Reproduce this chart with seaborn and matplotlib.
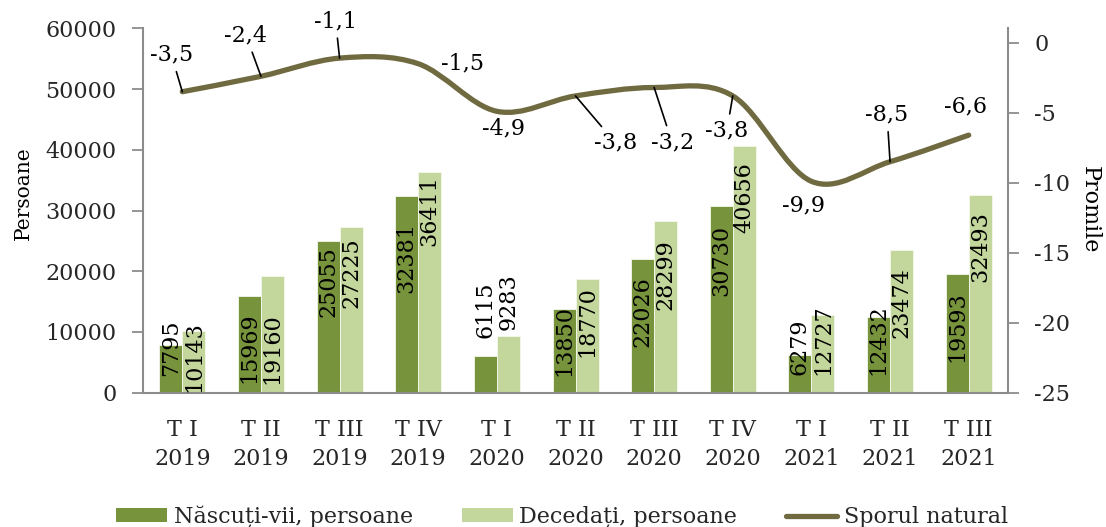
import numpy as np
import pandas as pd
import matplotlib
matplotlib.use("Agg")
import matplotlib.pyplot as plt
from matplotlib.path import Path
from matplotlib.patches import PathPatch, Patch
from matplotlib.lines import Line2D
from matplotlib.ticker import FixedLocator
import seaborn as sns

# Quarterly demographic figures
trimestre = ["T I", "T II", "T III", "T IV", "T I", "T II", "T III", "T IV", "T I", "T II", "T III"]
ani = ["2019", "2019", "2019", "2019", "2020", "2020", "2020", "2020", "2021", "2021", "2021"]
nascuti = [7795, 15969, 25055, 32381, 6115, 13850, 22026, 30730, 6279, 12432, 19593]
decedati = [10143, 19160, 27225, 36411, 9283, 18770, 28299, 40656, 12727, 23474, 32493]
sporul = [-3.5, -2.4, -1.1, -1.5, -4.9, -3.8, -3.2, -3.8, -9.9, -8.5, -6.6]

serie_nascuti = "Născuți-vii, persoane"
serie_decedati = "Decedați, persoane"
serie_sporul = "Sporul natural"

# Vertical placement of the value labels inside/above the bars (left-axis units)
nascuti_label_y = [7442, 7442, 18227, 22343, 13617, 8677, 13287, 21849, 7525, 8677, 10818]
decedati_label_y = [5878, 7195, 19709, 29917, 14934, 11641, 19379, 32140, 8677, 14769, 23990]

# Offsets (pixels) of the natural-growth labels and whether a leader line is drawn
sporul_offsets = [(-11, 37), (-15, 41), (-4, 37), (44, 0), (7, -17), (40, -47),
                  (18, -55), (-6, -35), (-8, -24), (-3, 47), (-3, 29)]
sporul_leader = [True, True, True, False, False, True, True, True, False, True, False]

col_dark = "#77933C"
col_light = "#C3D69B"
col_line = "#6F6A40"
col_axis = "#8C8C8C"

sns.set_theme(style="white")
plt.rcParams["font.family"] = ["DejaVu Serif"]
plt.rcParams["axes.unicode_minus"] = False
FS = 16

categorii = [f"{t}\n{a}" for t, a in zip(trimestre, ani)]
df = pd.DataFrame({
    "perioada": categorii * 2,
    "valoare": nascuti + decedati,
    "serie": [serie_nascuti] * len(nascuti) + [serie_decedati] * len(decedati),
})

fig = plt.figure(figsize=(11.06, 5.27), dpi=100)
ax = fig.add_axes([0.1293, 0.2548, 0.7821, 0.6915])

sns.barplot(data=df, x="perioada", y="valoare", hue="serie",
            palette=[col_dark, col_light], saturation=1, width=0.585, gap=0,
            edgecolor="#F4F8EC", linewidth=0.6, ax=ax)
if ax.get_legend() is not None:
    ax.get_legend().remove()

ax.set_xlim(-0.5, len(categorii) - 0.5)
ax.set_ylim(0, 60000)
ax.set_yticks(np.arange(0, 60001, 10000))
ax.set_yticklabels([str(v) for v in range(0, 60001, 10000)], fontsize=FS)
ax.set_xticks(range(len(categorii)))
ax.set_xticklabels(categorii, fontsize=FS, linespacing=1.38)
ax.xaxis.set_minor_locator(FixedLocator(np.arange(-0.5, len(categorii), 1.0)))
ax.tick_params(axis="x", which="major", length=0, pad=19)
ax.tick_params(axis="x", which="minor", length=8, width=1.3, color=col_axis, direction="out")
ax.tick_params(axis="y", length=8, width=1.3, color=col_axis, direction="out", pad=11)
ax.set_xlabel("")
ax.set_ylabel("")
# Left axis title
ax.text(-0.1387, 0.548, "Persoane", transform=ax.transAxes, rotation=90,
        ha="center", va="center", fontsize=14.5, color="black")
for side in ("top", "right"):
    ax.spines[side].set_visible(False)
for side in ("left", "bottom"):
    ax.spines[side].set_color(col_axis)
    ax.spines[side].set_linewidth(1.5)

# Value labels on the bars
for cont, vals, ypos in zip(ax.containers, [nascuti, decedati], [nascuti_label_y, decedati_label_y]):
    for bar, v, y in zip(cont, vals, ypos):
        ax.text(bar.get_x() + bar.get_width() / 2, y, str(v), rotation=90,
                ha="center", va="center", fontsize=FS, color="black", zorder=5)

# Secondary axis for the natural growth rate
ax2 = ax.twinx()
ax2.set_ylim(-25, 1.03)
ax2.set_yticks(np.arange(-25, 1, 5))
ax2.set_yticklabels([str(v) for v in range(-25, 1, 5)], fontsize=FS)
ax2.tick_params(axis="y", length=8, width=1.3, color=col_axis, direction="out", pad=11)
ax2.set_ylabel("")
ax2.text(1.0948, 0.501, "Promile", transform=ax2.transAxes, rotation=270,
         ha="center", va="center", fontsize=FS, color="black")
for side in ("top", "left", "bottom"):
    ax2.spines[side].set_visible(False)
ax2.spines["right"].set_color(col_axis)
ax2.spines["right"].set_linewidth(1.5)
ax2.grid(False)

# Smoothed curve through the quarterly points (cubic Bezier segments)
pts = np.column_stack([np.arange(len(sporul), dtype=float), np.array(sporul, dtype=float)])
n = len(pts)
verts = [tuple(pts[0])]
codes = [Path.MOVETO]
for i in range(n - 1):
    p0 = pts[max(i - 1, 0)]
    p1 = pts[i]
    p2 = pts[i + 1]
    p3 = pts[min(i + 2, n - 1)]
    c1 = p1 + (p2 - p0) / 6.0
    c2 = p2 - (p3 - p1) / 6.0
    verts += [tuple(c1), tuple(c2), tuple(p2)]
    codes += [Path.CURVE4] * 3
curve = PathPatch(Path(verts, codes), facecolor="none", edgecolor=col_line,
                  linewidth=3.8, capstyle="round", joinstyle="round", zorder=4)
ax2.add_patch(curve)

for i, (v, (dx, dy), lead) in enumerate(zip(sporul, sporul_offsets, sporul_leader)):
    txt = f"{v:.1f}".replace(".", ",")
    props = dict(arrowstyle="-", color="black", lw=1.2, shrinkA=2, shrinkB=0) if lead else None
    ax2.annotate(txt, xy=(i, v), xytext=(dx, dy), textcoords="offset pixels",
                 ha="center", va="center", fontsize=FS, color="black",
                 arrowprops=props, zorder=6)

handles = [
    Patch(facecolor=col_dark, edgecolor="none", label=serie_nascuti),
    Patch(facecolor=col_light, edgecolor="none", label=serie_decedati),
    Line2D([0], [0], color=col_line, linewidth=3.8, solid_capstyle="round", label=serie_sporul),
]
fig.legend(handles=handles, loc="lower center", bbox_to_anchor=(0.508, -0.04), ncol=3,
           frameon=False, fontsize=FS, handlelength=2.3, handleheight=0.6,
           handletextpad=0.3, columnspacing=2.2)

fig.savefig("out.png", dpi=100)
